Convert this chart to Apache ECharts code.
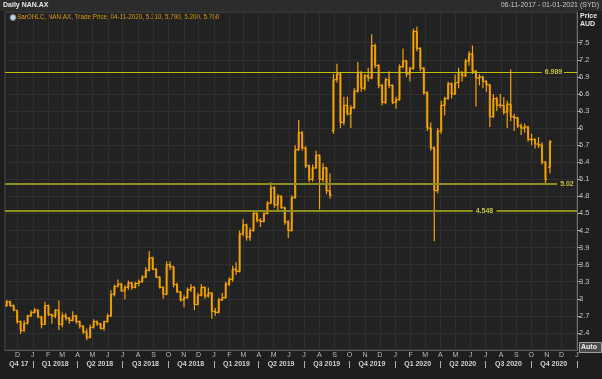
<!DOCTYPE html>
<html><head><meta charset="utf-8">
<script src="https://cdn.jsdelivr.net/npm/echarts@6/dist/echarts.min.js"></script>
<style>html,body{margin:0;padding:0;background:#1e1e1e;}#c{width:602px;height:379px;}</style>
</head><body><div id="c"></div>
<script>
// ---------- data ----------
const weekDates = [
'2017-11-06','2017-11-13','2017-11-20','2017-11-27','2017-12-04','2017-12-11','2017-12-18','2017-12-25',
'2018-01-01','2018-01-08','2018-01-15','2018-01-22','2018-01-29','2018-02-05','2018-02-12','2018-02-19','2018-02-26',
'2018-03-05','2018-03-12','2018-03-19','2018-03-26','2018-04-02','2018-04-09','2018-04-16','2018-04-23','2018-04-30',
'2018-05-07','2018-05-14','2018-05-21','2018-05-28','2018-06-04','2018-06-11','2018-06-18','2018-06-25',
'2018-07-02','2018-07-09','2018-07-16','2018-07-23','2018-07-30','2018-08-06','2018-08-13','2018-08-20','2018-08-27',
'2018-09-03','2018-09-10','2018-09-17','2018-09-24','2018-10-01','2018-10-08','2018-10-15','2018-10-22','2018-10-29',
'2018-11-05','2018-11-12','2018-11-19','2018-11-26','2018-12-03','2018-12-10','2018-12-17','2018-12-24','2018-12-31',
'2019-01-07','2019-01-14','2019-01-21','2019-01-28','2019-02-04','2019-02-11','2019-02-18','2019-02-25',
'2019-03-04','2019-03-11','2019-03-18','2019-03-25','2019-04-01','2019-04-08','2019-04-15','2019-04-22','2019-04-29',
'2019-05-06','2019-05-13','2019-05-20','2019-05-27','2019-06-03','2019-06-10','2019-06-17','2019-06-24',
'2019-07-01','2019-07-08','2019-07-15','2019-07-22','2019-07-29','2019-08-05','2019-08-12','2019-08-19','2019-08-26',
'2019-09-02','2019-09-09','2019-09-16','2019-09-23','2019-09-30','2019-10-07','2019-10-14','2019-10-21','2019-10-28',
'2019-11-04','2019-11-11','2019-11-18','2019-11-25','2019-12-02','2019-12-09','2019-12-16','2019-12-23','2019-12-30',
'2020-01-06','2020-01-13','2020-01-20','2020-01-27','2020-02-03','2020-02-10','2020-02-17','2020-02-24',
'2020-03-02','2020-03-09','2020-03-16','2020-03-23','2020-03-30','2020-04-06','2020-04-13','2020-04-20','2020-04-27',
'2020-05-04','2020-05-11','2020-05-18','2020-05-25','2020-06-01','2020-06-08','2020-06-15','2020-06-22','2020-06-29',
'2020-07-06','2020-07-13','2020-07-20','2020-07-27','2020-08-03','2020-08-10','2020-08-17','2020-08-24','2020-08-31',
'2020-09-07','2020-09-14','2020-09-21','2020-09-28','2020-10-05','2020-10-12','2020-10-19','2020-10-26','2020-11-04'
];
const opens = [
2.88,2.95,2.88,2.80,2.60,2.44,2.57,2.70, 2.76,2.80,2.68,2.55,2.88,2.72,2.70,2.80,2.55,
2.70,2.66,2.62,2.70,2.60,2.52,2.42,2.32,2.50, 2.60,2.56,2.48,2.60,2.70,3.08,3.22,3.26,
3.14,3.20,3.28,3.20,3.27,3.30,3.38,3.50,3.72, 3.52,3.38,3.20,3.08,3.60,3.56,3.25,3.12,2.98,
3.02,3.16,3.20,2.90,3.06,3.20,3.05,3.10,2.78, 2.76,2.98,3.02,3.26,3.34,3.52,3.48,4.14,
4.30,4.08,4.20,4.50,4.38,4.36,4.50,4.68,4.95, 4.65,4.80,4.60,4.35,4.20,4.78,5.62,5.92,
5.65,5.34,5.10,5.30,5.52,5.10,5.30,4.90,5.95, 6.85,6.95,6.10,6.40,6.25,6.36,6.65,6.98,6.70,
6.92,6.88,7.45,7.10,6.75,6.45,6.85,6.75,6.45, 6.50,7.08,7.18,6.95,7.05,7.70,7.40,7.05,
6.62,6.00,5.65,4.90,5.95,6.40,6.52,6.78,6.60, 6.80,6.98,6.92,7.18,7.30,7.00,6.88,6.90,6.82,
6.76,6.20,6.52,6.40,6.40,6.28,6.42,6.20,6.18, 6.04,6.00,6.02,5.80,5.80,5.72,5.70,5.40,5.31
];
const highs = [
2.98,2.97,2.90,2.80,2.62,2.62,2.72,2.80, 2.84,2.82,2.70,2.95,2.90,2.74,2.82,2.97,2.76,
2.75,2.68,2.78,2.72,2.62,2.54,2.48,2.55,2.64, 2.62,2.58,2.62,2.74,3.15,3.25,3.34,3.28,
3.24,3.32,3.30,3.30,3.34,3.42,3.56,3.84,3.74, 3.54,3.40,3.22,3.66,3.66,3.58,3.28,3.14,3.06,
3.20,3.26,3.22,3.10,3.26,3.22,3.20,3.12,2.84, 3.02,3.10,3.30,3.38,3.58,3.64,4.20,4.40,
4.32,4.25,4.56,4.52,4.42,4.52,4.72,5.05,4.98, 4.84,4.82,4.62,4.38,4.82,5.70,6.14,5.95,
5.68,5.36,5.36,5.60,5.54,5.38,5.32,5.20,6.95, 7.13,6.98,6.55,6.55,6.40,6.70,7.16,7.00,6.95,
7.06,7.65,7.48,7.12,6.78,6.88,7.00,6.77,6.55, 7.12,7.40,7.20,7.08,7.75,7.78,7.42,7.08,
6.65,6.10,5.68,6.00,6.48,6.55,6.82,6.80,6.94, 7.06,7.00,7.22,7.35,7.45,7.02,6.95,6.92,6.84,
6.78,6.60,6.55,6.60,6.54,6.48,7.03,6.25,6.20, 6.08,6.08,6.04,5.90,5.82,5.84,5.75,5.42,5.79
];
const lows = [
2.86,2.86,2.78,2.56,2.38,2.42,2.55,2.68, 2.74,2.66,2.48,2.55,2.70,2.56,2.66,2.45,2.50,
2.62,2.56,2.60,2.56,2.48,2.38,2.27,2.30,2.48, 2.52,2.46,2.44,2.58,2.68,3.04,3.20,3.12,
2.99,3.16,3.16,3.18,3.22,3.28,3.36,3.48,3.50, 3.36,3.18,3.00,3.06,3.50,3.20,3.10,2.95,2.85,
3.00,3.12,2.80,2.88,3.04,3.00,3.02,2.65,2.70, 2.74,2.96,3.00,3.22,3.30,3.42,3.46,4.10,
4.02,4.02,4.18,4.34,4.26,4.34,4.48,4.66,4.60, 4.55,4.58,4.30,4.07,4.18,4.76,5.60,5.60,
5.30,5.05,5.06,5.28,4.57,5.05,4.84,4.76,5.90, 6.80,6.00,6.05,6.22,6.00,6.33,6.62,6.64,6.66,
6.82,6.86,7.05,6.70,6.40,6.42,6.70,6.42,6.34, 6.48,7.05,6.90,6.82,7.02,7.35,7.00,6.58,
5.95,5.60,4.01,4.85,5.90,6.22,6.50,6.52,6.58, 6.70,6.82,6.90,7.10,6.95,6.38,6.75,6.70,6.64,
6.02,6.18,6.30,6.35,6.24,6.00,6.12,5.95,6.00, 5.88,5.92,5.76,5.70,5.64,5.65,5.36,5.02,5.20
];
const closes = [
2.95,2.88,2.80,2.60,2.44,2.57,2.70,2.76, 2.80,2.68,2.55,2.88,2.72,2.70,2.80,2.55,2.70,
2.66,2.62,2.70,2.60,2.52,2.42,2.32,2.50,2.60, 2.56,2.48,2.60,2.70,3.08,3.22,3.26,3.14,
3.20,3.28,3.20,3.27,3.30,3.38,3.50,3.72,3.52, 3.38,3.20,3.08,3.60,3.56,3.25,3.12,2.98,3.02,
3.16,3.20,2.90,3.06,3.20,3.05,3.10,2.78,2.76, 2.98,3.02,3.26,3.34,3.52,3.48,4.14,4.30,
4.08,4.20,4.50,4.38,4.36,4.50,4.68,4.95,4.65, 4.80,4.60,4.35,4.20,4.78,5.62,5.92,5.65,
5.34,5.10,5.30,5.52,5.10,5.30,4.90,4.82,6.85, 6.95,6.10,6.40,6.25,6.36,6.65,6.98,6.70,6.92,
6.88,7.45,7.10,6.75,6.45,6.85,6.75,6.45,6.50, 7.08,7.18,6.95,7.05,7.70,7.40,7.05,6.62,
6.00,5.65,4.90,5.95,6.40,6.52,6.78,6.60,6.80, 6.98,6.92,7.18,7.30,7.00,6.88,6.90,6.82,6.76,
6.20,6.52,6.40,6.40,6.28,6.42,6.20,6.18,6.04, 6.00,6.02,5.80,5.80,5.72,5.70,5.40,5.10,5.76
];
const levelValues = [6.989, 5.02, 4.548];
const levelLabels = ['6.989', '5.02', '4.548'];
const lastPriceLabel = '5.760';
const lastDateLabel = '04-11-2020';
const yTicks = [2.4,2.7,3,3.3,3.6,3.9,4.2,4.5,4.8,5.1,5.4,5.7,6,6.3,6.6,6.9,7.2,7.5];
const monthTicks = [
'2017-12-01','2018-01-01','2018-02-01','2018-03-01','2018-04-01','2018-05-01','2018-06-01','2018-07-01','2018-08-01','2018-09-01','2018-10-01','2018-11-01','2018-12-01',
'2019-01-01','2019-02-01','2019-03-01','2019-04-01','2019-05-01','2019-06-01','2019-07-01','2019-08-01','2019-09-01','2019-10-01','2019-11-01','2019-12-01',
'2020-01-01','2020-02-01','2020-03-01','2020-04-01','2020-05-01','2020-06-01','2020-07-01','2020-08-01','2020-09-01','2020-10-01','2020-11-01','2020-12-01',
'2021-01-01'];
const monthLabels = ['D',
'J','F','M','A','M','J','J','A','S','O','N','D',
'J','F','M','A','M','J','J','A','S','O','N','D',
'J','F','M','A','M','J','J','A','S','O','N','D','J'];
const quarterStarts = ['2018-01-01','2018-04-01','2018-07-01','2018-10-01','2019-01-01','2019-04-01','2019-07-01','2019-10-01','2020-01-01','2020-04-01','2020-07-01','2020-10-01','2021-01-01'];
const quarterMids = ['2017-12-04','2018-02-15','2018-05-16','2018-08-16','2018-11-15','2019-02-15','2019-05-16','2019-08-16','2019-11-15','2020-02-15','2020-05-16','2020-08-16','2020-11-15'];
const quarterLabels = ['Q4 17','Q1 2018','Q2 2018','Q3 2018','Q4 2018','Q1 2019','Q2 2019','Q3 2019','Q4 2019','Q1 2020','Q2 2020','Q3 2020','Q4 2020'];
const rangeStart = '2017-11-06', rangeEnd = '2021-01-01';

// ---------- build ----------
const P = s => +echarts.number.parseDate(s);
const FF = 'Liberation Sans';
const ORANGE = '#f5a300';
const WEEK = 7 * 24 * 3600 * 1000;
const seriesData = weekDates.map((d,i)=>[P(d), opens[i], highs[i], lows[i], closes[i]]);
const monthMap = {}; monthTicks.forEach((d,i)=>monthMap[P(d)] = monthLabels[i]);
const quarterMap = {}; quarterMids.forEach((d,i)=>quarterMap[P(d)] = quarterLabels[i]);
const n = opens.length - 1;
const legendText = 'BarOHLC, NAN.AX, Trade Price, ' + lastDateLabel + ', ' +
  [opens[n], highs[n], lows[n], closes[n]].map(v=>v.toFixed(3)).join(', ');

function renderItem(params, api){
  const t = api.value(0);
  const o = api.coord([t, api.value(1)]);
  const h = api.coord([t, api.value(2)]);
  const l = api.coord([t, api.value(3)]);
  const c = api.coord([t, api.value(4)]);
  const w = api.size([WEEK, 0])[0];
  const xc = o[0] + w / 2;
  const bw = w * 0.6;
  const d = Math.abs(o[1] - c[1]);
  const hgt = Math.max(d, 1.6);
  const top = Math.min(o[1], c[1]) - (hgt - d) / 2;
  return {type:'group', children:[
    {type:'rect', shape:{x: xc - bw/2, y: top, width: bw, height: hgt}, style:{fill: '#dc9200'}},
    {type:'line', shape:{x1:xc, y1:h[1], x2:xc, y2:l[1]}, style:{stroke: ORANGE, lineWidth: 1.2}},
    {type:'line', shape:{x1:o[0], y1:o[1], x2:xc, y2:o[1]}, style:{stroke: ORANGE, lineWidth: 1.2}},
    {type:'line', shape:{x1:xc, y1:c[1], x2:o[0]+w, y2:c[1]}, style:{stroke: ORANGE, lineWidth: 1.2}}
  ]};
}

const lvlText = {color:'#c4c43c', fontSize:7, fontFamily:FF, fontWeight:'bold'};
function seg(x1, x2, v, color, w, label){
  const ls = {color: color, width: w, type:'solid'};
  const lb = label ? Object.assign({show:true, position:'end', distance:3, formatter: label}, lvlText) : {show:false};
  return [{coord:[P(x1), v], lineStyle: ls, label: lb}, {coord:[P(x2), v], lineStyle: ls, label: lb}];
}
const lastLbl = {show:true, position:'end', distance:1, formatter: lastPriceLabel, backgroundColor: ORANGE, color:'#000', fontSize:7.5, fontWeight:'bold', fontFamily:FF, padding:[1,2,0,2]};

const option = {
  backgroundColor: '#1e1e1e',
  animation: false,
  grid: {left: 5, right: 25, top: 12, bottom: 29, show: true, backgroundColor: '#222222', borderColor: '#484848', borderWidth: 1},
  xAxis: [{
    type: 'value', min: P(rangeStart), max: P(rangeEnd), position: 'bottom', scale: true,
    axisLine: {show: true, onZero: false, lineStyle: {color: '#555555'}},
    axisTick: {show: false, customValues: monthTicks.map(P)},
    axisLabel: {customValues: monthTicks.map(P), formatter: v => monthMap[v] || '', color: '#bdbdbd', fontSize: 7, fontFamily: FF, margin: 2, hideOverlap: false, showMinLabel: true, showMaxLabel: true},
    splitLine: {show: true, lineStyle: {color: '#2f2f2f', width: 1}}
  }, {
    type: 'value', min: P(rangeStart), max: P(rangeEnd), position: 'bottom', offset: 11, scale: true,
    axisLine: {show: false, onZero: false},
    axisTick: {show: true, customValues: quarterStarts.map(P), length: 7, lineStyle: {color: '#b0b0b0'}},
    axisLabel: {customValues: quarterMids.map(P), formatter: v => quarterMap[v] || '', color: '#d0d0d0', fontSize: 7, fontWeight: 'bold', fontFamily: FF, margin: 0, hideOverlap: false, showMinLabel: true, showMaxLabel: true},
    splitLine: {show: false}
  }],
  yAxis: {
    type: 'value', position: 'right', min: 2.1, max: 8.04, scale: true,
    axisLine: {show: true, lineStyle: {color: '#707070'}},
    axisTick: {show: true, customValues: yTicks, length: 4, lineStyle: {color: '#a0a0a0'}},
    axisLabel: {customValues: yTicks, formatter: v => String(+(+v).toFixed(1)), color: '#c4c4c4', fontSize: 7.5, fontFamily: FF, margin: 2},
    splitLine: {show: true, lineStyle: {color: '#2f2f2f', width: 1}}
  },
  series: [{
    type: 'custom', name: 'NAN.AX', renderItem: renderItem, data: seriesData,
    encode: {x: 0, y: [1,2,3,4]}, clip: true, silent: true,
    markLine: {
      silent: true, symbol: ['none','none'], animation: false,
      data: [
        seg(rangeStart, '2020-10-22', levelValues[0], '#c0c000', 1, levelLabels[0]),
        seg('2020-12-06', rangeEnd, levelValues[0], '#c0c000', 1, null),
        seg(rangeStart, '2020-11-22', levelValues[1], '#8e8e1e', 2, levelLabels[1]),
        seg(rangeStart, '2020-06-05', levelValues[2], '#8e8e1e', 2, levelLabels[2]),
        seg('2020-07-23', rangeEnd, levelValues[2], '#8e8e1e', 2, null),
        [{coord:[P(rangeStart), closes[n]], lineStyle:{width:0, opacity:0}, label: lastLbl},
         {coord:[P(rangeEnd), closes[n]], lineStyle:{width:0, opacity:0}, label: lastLbl}]
      ]
    }
  }],
  graphic: [
    {type:'rect', left:0, top:0, shape:{width:602, height:11}, style:{fill:'#2c2c2c'}, silent:true},
    {type:'text', left:3, top:2, style:{text:'Daily NAN.AX', fill:'#e6e6e6', font:'bold 7px "Liberation Sans"'}},
    {type:'text', right:3, top:2, style:{text:'06-11-2017 - 01-01-2021 (SYD)', fill:'#c8c8c8', font:'7px "Liberation Sans"'}},
    {type:'circle', shape:{cx:13, cy:17.5, r:3}, style:{fill:'#c8d4e4', stroke:'#6a7a90', lineWidth:1}},
    {type:'text', left:17, top:14, style:{text: legendText, fill:'#e09a10', font:'6.3px "Liberation Sans"'}},
    {type:'text', left:580, top:13, style:{text:'Price', fill:'#e6e6e6', font:'bold 7px "Liberation Sans"'}},
    {type:'text', left:580, top:21, style:{text:'AUD', fill:'#e6e6e6', font:'bold 7px "Liberation Sans"'}},
    {type:'rect', left:579, top:342, shape:{width:22, height:10}, style:{fill:'#4a4a4a', stroke:'#a0a0a0', lineWidth:1}},
    {type:'text', left:581, top:344, style:{text:'Auto', fill:'#f0f0f0', font:'bold 7px "Liberation Sans"'}}
  ]
};
const chart = echarts.init(document.getElementById('c'), null, {renderer:'canvas'});
chart.setOption(option);
</script></body></html>
